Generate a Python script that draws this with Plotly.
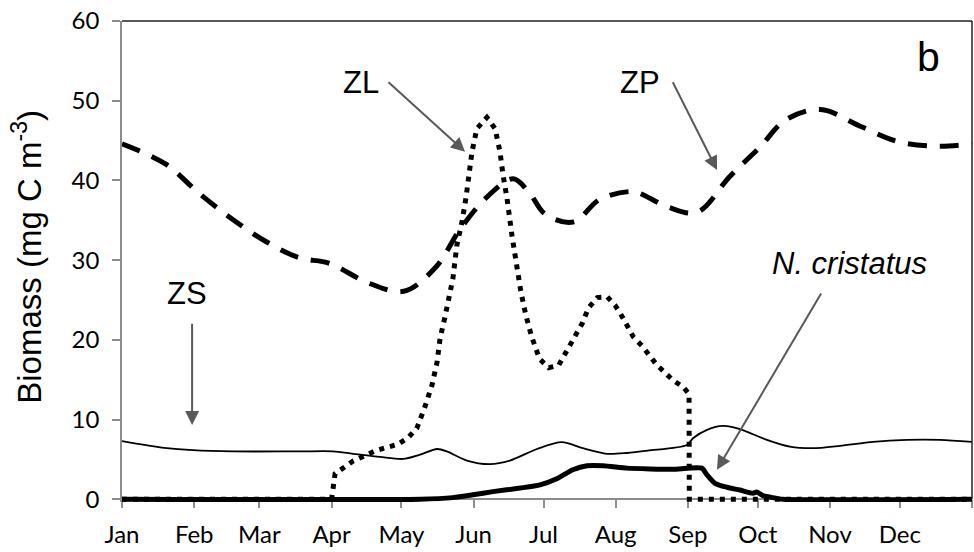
import plotly.graph_objects as go

# ---- data (day of year, mg C m-3) ----
month_ticks = [0, 31, 59, 90, 120, 151, 181, 212, 243, 273, 304, 334, 365]
month_labels = ["Jan", "Feb", "Mar", "Apr", "May", "Jun", "Jul", "Aug", "Sep", "Oct", "Nov", "Dec", ""]
y_ticks = [0, 10, 20, 30, 40, 50, 60]

zp_day = [0, 19, 33, 48, 62, 76, 89, 106, 121, 135, 145, 157, 168, 175, 182, 194, 205, 218, 222,
          235, 247, 261, 274, 285, 300, 317, 334, 351, 365]
zp_val = [44.6, 42.0, 38.4, 35.0, 32.3, 30.3, 29.6, 27.1, 26.1, 29.2, 33.8, 38.0, 40.2, 38.4, 35.7,
          34.8, 37.6, 38.6, 38.4, 36.6, 36.0, 40.5, 44.2, 47.6, 48.9, 46.8, 44.8, 44.3, 44.6]

zl_day = [0, 90, 91.5, 99.3, 109, 118.5, 122.8, 126.6, 130.1, 133.1, 135.3, 136.6, 138.7, 140.8,
          142.1, 143.8, 146, 147.7, 149, 150.3, 152.4, 156.7, 160.2, 162.3, 163.6, 165.3, 167.5,
          169.5, 171.3, 173.4, 175.9, 179.3, 183.2, 187.5, 192.6, 197.7, 200.3, 204.1, 208.4,
          211.8, 214.8, 219.5, 223.4, 229.8, 236.7, 240.9, 243.5, 243.6, 365]
zl_val = [0, 0, 3.2, 4.8, 6.1, 6.9, 7.7, 8.9, 11.6, 14.3, 17.2, 20.2, 22.9, 25.9,
          27.7, 31.9, 34.8, 37.8, 40.7, 43.6, 46.5, 47.9, 46.5, 43.6, 40.7, 37.8, 33.0,
          29.2, 26.0, 23.1, 20.4, 17.6, 16.5, 16.8, 19.4, 22.1, 24.0, 25.3, 25.4,
          24.3, 22.9, 20.4, 19.2, 16.8, 14.9, 14.1, 13.2, 0, 0]

zs_day = [0, 19.3, 30.5, 47.7, 76.4, 90.6, 99.2, 110.8, 120.7, 128, 135.3, 139.5, 148.1, 158,
          166.6, 178.2, 188.9, 197.9, 208.2, 216.8, 225.8, 242.6, 245.2, 251.2, 258.1, 265.3,
          276.9, 286.8, 296.7, 308.3, 322.5, 337, 351.2, 365]
zs_val = [7.3, 6.4, 6.15, 6.0, 6.0, 6.0, 5.7, 5.3, 5.05, 5.6, 6.3, 6.0, 4.85, 4.4,
          4.85, 6.3, 7.15, 6.4, 5.7, 5.8, 6.1, 6.8, 7.65, 8.7, 9.2, 8.8,
          7.45, 6.6, 6.4, 6.7, 7.2, 7.45, 7.45, 7.2]

nc_day = [0, 128, 142, 150.7, 159.3, 171, 179.5, 186.9, 193.6, 199.7, 206.6, 216.8, 226.7,
          236.6, 249, 251.2, 254.6, 259.8, 265.3, 270.9, 272.6, 275.2, 279.5, 283.8, 365]
nc_val = [0, 0, 0.2, 0.55, 0.95, 1.4, 1.8, 2.6, 3.7, 4.2, 4.2, 3.9, 3.8,
          3.75, 3.9, 3.05, 2.0, 1.5, 1.15, 0.75, 0.9, 0.45, 0.2, 0, 0]

Y_MIN, Y_MAX = -0.35, 60   # small pad below 0 so thick lines at 0 are not clipped
zero_pos = (0 - Y_MIN) / (Y_MAX - Y_MIN)

# ---- figure ----
fig = go.Figure()
fig.add_trace(go.Scatter(x=zl_day, y=zl_val, mode="lines",
                         line=dict(color="black", width=5, dash="5px,6px"), showlegend=False))
fig.add_trace(go.Scatter(x=zp_day, y=zp_val, mode="lines",
                         line=dict(color="black", width=5, dash="19px,13px", shape="spline", smoothing=1),
                         showlegend=False))
fig.add_trace(go.Scatter(x=zs_day, y=zs_val, mode="lines",
                         line=dict(color="black", width=1.8, shape="spline", smoothing=0.8),
                         showlegend=False))
fig.add_trace(go.Scatter(x=nc_day, y=nc_val, mode="lines",
                         line=dict(color="black", width=5, shape="spline", smoothing=0.6),
                         showlegend=False))

tickfont = dict(family="Lato, Carlito, Calibri, sans-serif", size=24, color="black")
fig.update_xaxes(range=[0, 365], tickmode="array", tickvals=month_ticks, ticktext=month_labels,
                 anchor="free", position=zero_pos, layer="below traces",
                 showline=True, linecolor="#8c8c8c", linewidth=1.5, ticks="outside", ticklen=8,
                 tickcolor="#8c8c8c", tickwidth=1.5, showgrid=False, zeroline=False, tickfont=tickfont,
                 ticklabelstandoff=6)
fig.update_yaxes(range=[Y_MIN, Y_MAX], tickmode="array", tickvals=y_ticks, layer="below traces",
                 showline=True, linecolor="#8c8c8c", linewidth=1.5, ticks="outside", ticklen=8,
                 tickcolor="#8c8c8c", tickwidth=1.5, showgrid=False, zeroline=False, tickfont=tickfont,
                 ticklabelstandoff=8)

# top and right border
fig.add_shape(type="line", xref="paper", yref="paper", x0=0, x1=1, y0=1, y1=1,
              line=dict(color="#222222", width=1.5))
fig.add_shape(type="line", xref="paper", yref="paper", x0=1, x1=1, y0=zero_pos, y1=1,
              line=dict(color="#222222", width=1.5))

lab = dict(family="Liberation Sans, Arial, sans-serif", size=31, color="black")
arrow_col = "#595959"

def arrow(hx, hy, tx, ty):
    fig.add_annotation(x=hx, y=hy, ax=tx, ay=ty, xref="x", yref="y", axref="x", ayref="y",
                       text="", showarrow=True, arrowhead=2, arrowsize=1.4, arrowwidth=2,
                       arrowcolor=arrow_col, standoff=0, startstandoff=0)

arrow(147.3, 43.6, 113.8, 52.5)   # ZL
arrow(255.5, 41.3, 236.2, 52.5)   # ZP
arrow(255.5, 3.7, 300.6, 26.0)    # N. cristatus
arrow(30.1, 9.3, 30.1, 22.2)      # ZS

def label(x, y, t, font):
    fig.add_annotation(x=x, y=y, xref="x", yref="y", text=t, showarrow=False, font=font,
                       xanchor="center", yanchor="middle")

label(102.5, 52.3, "ZL", lab)
label(222.4, 52.3, "ZP", lab)
label(27.9, 25.8, "ZS", lab)
label(312.6, 29.6, "<i>N. cristatus</i>", lab)
label(346.5, 55.5, "b", dict(family="Liberation Sans, Arial, sans-serif", size=41, color="black"))

# y-axis title
fig.add_annotation(x=(27 - 122) / 850, y=(499.3 - 254) / (502.1 - 21), xref="paper", yref="paper",
                   text="Biomass (mg C m<sup>-3</sup>)", textangle=-90, showarrow=False,
                   font=dict(family="Liberation Sans, Arial, sans-serif", size=33, color="black"),
                   xanchor="center", yanchor="middle")

fig.update_layout(width=974, height=552, margin=dict(l=122, r=2, t=21, b=50),
                  plot_bgcolor="white", paper_bgcolor="white")

fig.write_html("out.html")
